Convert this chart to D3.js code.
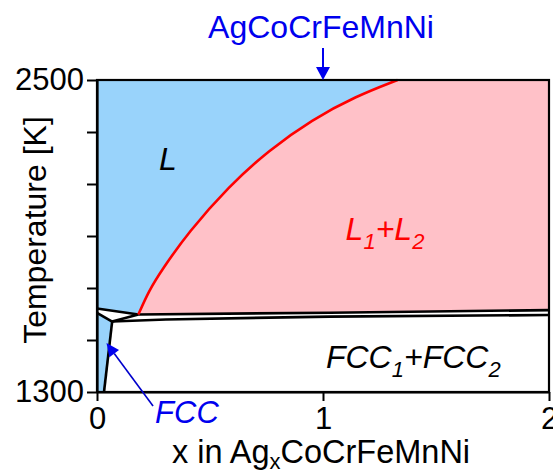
<!DOCTYPE html>
<html><head><meta charset="utf-8">
<script src="https://cdn.jsdelivr.net/npm/d3@7"></script>
<style>
body{margin:0;background:#fff}
text{font-family:"Liberation Sans",Arial,Helvetica,sans-serif}
</style>
</head><body>
<svg id="c" width="553" height="472"></svg>
<script>
// ---- data ----
const xDomain = [0, 2];
const yDomain = [1300, 2500];
const xTicks = [0, 1, 2];
const yTicks = [1300, 1500, 1700, 1900, 2100, 2300, 2500];
const yTickLabels = [1300, 2500];
// liquid miscibility gap boundary (red)
const miscibilityGap = [[0.183,1598],[0.23,1690],[0.287,1770],[0.405,1915],[0.582,2090],[0.76,2230],[0.952,2348],[1.144,2437],[1.33,2500]];
// black phase boundaries
const upperLeftLine = [[0,1621],[0.183,1598]];
const monotecticLine = [[0.183,1598],[1.03,1605],[2,1615]];
const lowerLine = [[0.067,1571],[0.305,1579],[1.03,1590],[2,1596]];
const fccLiquidus = [[0,1604],[0.067,1571]];
const triangleEdge = [[0.067,1571],[0.183,1598]];
const fccSolvus = [[0.067,1571],[0.031,1300]];
// annotations (data units)
const topArrow = {x:1, from:2623, to:2500, label:"AgCoCrFeMnNi"};
const fccArrow = {from:[0.248,1246], to:[0.042,1488]};
const labelL = [0.274, 2154];
const labelL1L2 = [1.10, 1885];
const labelFCC12 = [1.013, 1392];
const labelFCC = [0.257, 1181];

// ---- scales ----
const svg = d3.select("#c");
const x = d3.scaleLinear().domain(xDomain).range([97, 549]);
const y = d3.scaleLinear().domain(yDomain).range([392, 80]);
const line = d3.line().x(d => x(d[0])).y(d => y(d[1]));
const smooth = d3.line().x(d => x(d[0])).y(d => y(d[1])).curve(d3.curveBasis);

const blue = "#99d3fb", pink = "#ffc1c8";

// L region
const gapRev = miscibilityGap.slice().reverse();
let dL = "M" + x(0) + "," + y(2500) + "L" + x(1.33) + "," + y(2500) + smooth(gapRev).replace(/^M/, "L") + "L" + x(upperLeftLine[0][0]) + "," + y(upperLeftLine[0][1]) + "Z";
svg.append("path").attr("d", dL).attr("fill", blue);
// L1+L2 region
let dP = smooth(miscibilityGap) + "L" + x(2) + "," + y(2500) + line(monotecticLine.slice().reverse()).replace(/^M/, "L") + "Z";
svg.append("path").attr("d", dP).attr("fill", pink);
// FCC region
const fccPoly = [...fccLiquidus, fccSolvus[1], [0,1300]];
svg.append("path").attr("d", line(fccPoly) + "Z").attr("fill", blue);

// black boundaries
[upperLeftLine, monotecticLine, lowerLine, fccLiquidus, triangleEdge, fccSolvus].forEach(p => {
  svg.append("path").attr("d", line(p)).attr("fill", "none").attr("stroke", "#000")
    .attr("stroke-width", 2.6).attr("stroke-linejoin", "round");
});
// red curve
svg.append("path").attr("d", smooth(miscibilityGap)).attr("fill", "none")
  .attr("stroke", "#ff0000").attr("stroke-width", 2.6);

// frame
svg.append("rect").attr("x", x(0)).attr("y", y(2500)).attr("width", x(2) - x(0)).attr("height", y(1300) - y(2500))
  .attr("fill", "none").attr("stroke", "#000").attr("stroke-width", 2.2);

// axes
const yAxis = d3.axisLeft(y).tickValues(yTicks).tickSize(10).tickSizeOuter(0).tickPadding(3)
  .tickFormat(d => yTickLabels.includes(d) ? d : "");
const gy = svg.append("g").attr("transform", `translate(${x(0)},0)`).call(yAxis);
const xAxis = d3.axisBottom(x).tickValues(xTicks).tickSize(9).tickSizeOuter(0).tickPadding(6).tickFormat(d3.format("d"));
const gx = svg.append("g").attr("transform", `translate(0,${y(1300)})`).call(xAxis);
[gx, gy].forEach(g => {
  g.selectAll("path.domain").attr("stroke", "#000").attr("stroke-width", 2.2);
  g.selectAll(".tick line").attr("stroke", "#000").attr("stroke-width", 2);
  g.selectAll(".tick text").attr("fill", "#000").style("font-size", "31px")
    .style("font-family", '"Liberation Sans",Arial,sans-serif');
});

// axis titles
svg.append("text").attr("transform", `translate(46,${(y(1300)+y(2500))/2 - 6}) rotate(-90)`)
  .attr("text-anchor", "middle").style("font-size", "32px").attr("fill", "#000").text("Temperature [K]");
const xt = svg.append("text").attr("x", (x(0)+x(2))/2 - 2).attr("y", 463).attr("text-anchor", "middle")
  .style("font-size", "32.5px").attr("fill", "#000");
xt.append("tspan").text("x in Ag");
xt.append("tspan").attr("dy", 6).style("font-size", "22px").text("x");
xt.append("tspan").attr("dy", -6).text("CoCrFeMnNi");

// top annotation
svg.append("text").attr("x", x(topArrow.x) - 2).attr("y", 38).attr("text-anchor", "middle")
  .style("font-size", "32px").attr("fill", "#0000ee").text(topArrow.label);
svg.append("line").attr("x1", x(topArrow.x)).attr("x2", x(topArrow.x)).attr("y1", y(topArrow.from)).attr("y2", y(topArrow.to) - 10)
  .attr("stroke", "#0000ee").attr("stroke-width", 2);
svg.append("path").attr("d", `M${x(topArrow.x)-7},${y(topArrow.to)-13}L${x(topArrow.x)+7},${y(topArrow.to)-13}L${x(topArrow.x)},${y(topArrow.to)}Z`)
  .attr("fill", "#0000ee");

// FCC arrow
{
  const x1 = x(fccArrow.from[0]), y1 = y(fccArrow.from[1]);
  const x2 = x(fccArrow.to[0]), y2 = y(fccArrow.to[1]);
  const a = Math.atan2(y2 - y1, x2 - x1);
  const L = 13, W = 6;
  const bx = x2 - L * Math.cos(a), by = y2 - L * Math.sin(a);
  svg.append("line").attr("x1", x1).attr("y1", y1).attr("x2", bx).attr("y2", by)
    .attr("stroke", "#0000cc").attr("stroke-width", 1.6);
  svg.append("path").attr("d", `M${x2},${y2}L${bx + W*Math.sin(a)},${by - W*Math.cos(a)}L${bx - W*Math.sin(a)},${by + W*Math.cos(a)}Z`)
    .attr("fill", "#0000ee");
}

// region labels
function subLabel(pos, parts, color, size) {
  const t = svg.append("text").attr("x", x(pos[0])).attr("y", y(pos[1]))
    .style("font-size", size + "px").style("font-style", "italic").attr("fill", color);
  let down = false;
  parts.forEach(p => {
    const ts = t.append("tspan").text(p.t);
    if (p.sub) { ts.attr("dy", 9).style("font-size", "22px"); down = true; }
    else if (down) { ts.attr("dy", -9); down = false; }
  });
}
subLabel(labelL, [{t:"L"}], "#000", 32);
subLabel(labelL1L2, [{t:"L"},{t:"1",sub:true},{t:"+L"},{t:"2",sub:true}], "#ff0000", 32);
subLabel(labelFCC12, [{t:"FCC"},{t:"1",sub:true},{t:"+FCC"},{t:"2",sub:true}], "#000", 32);
subLabel(labelFCC, [{t:"FCC"}], "#0000ee", 31);
</script>
</body></html>
